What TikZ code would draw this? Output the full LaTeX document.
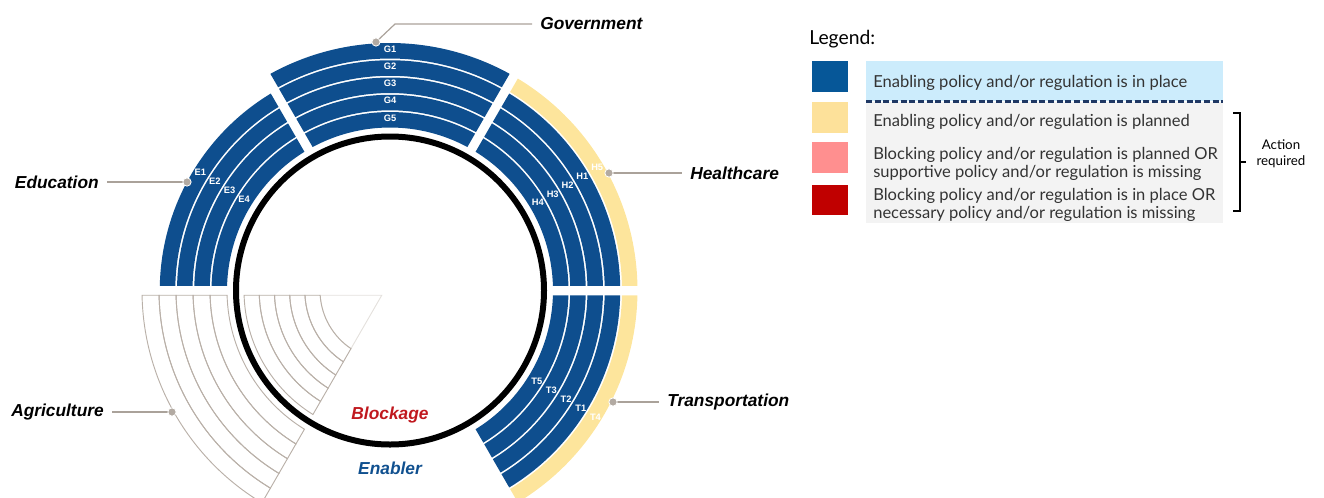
\documentclass[tikz,border=0pt]{standalone}
\usepackage{fontspec}
\setmainfont{Lato}
\newfontfamily\sectorfont{Liberation Sans}
\usetikzlibrary{positioning}

\definecolor{bandblue}{RGB}{14,78,142}
\definecolor{planyellow}{RGB}{253,229,156}
\definecolor{outgray}{RGB}{185,176,168}
\definecolor{faintgray}{RGB}{228,225,221}
\definecolor{leadgray}{RGB}{170,162,154}
\definecolor{dotgray}{RGB}{178,170,162}
\definecolor{blockred}{RGB}{192,24,30}
\definecolor{enablerblue}{RGB}{16,80,143}
\definecolor{keyblue}{RGB}{6,87,152}
\definecolor{keyyellow}{RGB}{253,225,154}
\definecolor{keypink}{RGB}{255,143,143}
\definecolor{keyred}{RGB}{192,0,0}
\definecolor{legblue}{RGB}{204,236,252}
\definecolor{leggray}{RGB}{243,243,243}
\definecolor{legnavy}{RGB}{31,56,100}

% half width of the white strip between two sectors
\newcommand{\gap}{4.75}
% ring piece: start angle, end angle, inner radius, outer radius, style
\newcommand{\ringseg}[5]{%
  \path[#5] ({#1+asin(\gap/(#4))}:#4)
    arc[start angle={#1+asin(\gap/(#4))}, end angle={#2-asin(\gap/(#4))}, radius=#4]
    -- ({#2-asin(\gap/(#3))}:#3)
    arc[start angle={#2-asin(\gap/(#3))}, end angle={#1+asin(\gap/(#3))}, radius=#3]
    -- cycle;}

\begin{document}
\begin{tikzpicture}[
        x=0.75pt, y=0.75pt,
        every node/.style={inner sep=0pt},
        band/.style={fill=bandblue},
        planned/.style={fill=planyellow},
        agri/.style={draw=outgray, line width=0.7pt},
        sector/.style={font=\sectorfont\bfseries\itshape\fontsize{13}{15}\selectfont, inner xsep=6pt},
        bandlabel/.style={font=\sectorfont\bfseries\fontsize{7}{8}\selectfont, text=white},
        dot/.style={circle, fill=dotgray, draw=white, line width=0.6pt, minimum size=6.2pt},
        leader/.style={draw=leadgray, line width=0.9pt},
        key/.style={minimum width=27pt, minimum height=23pt},
        keytext/.style={font=\fontsize{12.4}{13.5}\selectfont, text=black!80, align=left, anchor=west}
    ]
    \useasboundingbox (0,0) rectangle (1324,-497);

    \begin{scope}[shift={(390,-290.5)}]
        % Government
        \foreach \k [evaluate=\k as \ri using 163+17.25*\k, evaluate=\k as \ro using 178.5+17.25*\k] in {0,...,4}
            \ringseg{60}{120}{\ri}{\ro}{band};
        % Healthcare
        \foreach \k [evaluate=\k as \ri using 163+17.25*\k, evaluate=\k as \ro using 178.5+17.25*\k] in {0,...,3}
            \ringseg{0}{60}{\ri}{\ro}{band};
        \ringseg{0}{60}{232}{247.5}{planned}
        % Transportation
        \foreach \k [evaluate=\k as \ri using 163+17.25*\k, evaluate=\k as \ro using 178.5+17.25*\k] in {0,...,3}
            \ringseg{-60}{0}{\ri}{\ro}{band};
        \ringseg{-60}{0}{232}{247.5}{planned}
        % Education
        \foreach \k [evaluate=\k as \ri using 163+17.25*\k, evaluate=\k as \ro using 178.5+17.25*\k] in {0,...,3}
            \ringseg{120}{180}{\ri}{\ro}{band};
        % Agriculture, outside and inside
        \foreach \k [evaluate=\k as \ri using 163+17*\k, evaluate=\k as \ro using 180+17*\k] in {0,...,4}
            \ringseg{180}{240}{\ri}{\ro}{agri};
        \draw[faintgray, line width=0.7pt] (210:{2*\gap}) -- ({180+asin(\gap/70)}:70)
            arc[start angle={180+asin(\gap/70)}, end angle={240-asin(\gap/70)}, radius=70] -- cycle;
        \foreach \k [evaluate=\k as \ri using 70+15.2*\k, evaluate=\k as \ro using 85.2+15.2*\k] in {0,...,4}
            \ringseg{180}{240}{\ri}{\ro}{agri};

        % Circle
        \draw[line width=4.5pt] (0,0) circle[radius=154];

        % Band labels
        \foreach \lab/\k in {G5/0, G4/1, G3/2, G2/3, G1/4}
            \node[bandlabel] (\lab) at (90:{172.5+17.25*\k}) {\lab};
        \foreach \lab/\k in {E4/0, E3/1, E2/2, E1/3}
            \node[bandlabel] (\lab) at (148:{172+17.25*\k}) {\lab};
        \foreach \lab/\k in {H4/0, H3/1, H2/2, H1/3, H5/4}
            \node[bandlabel] (\lab) at (30.7:{172+17.25*\k}) {\lab};
        \foreach \lab/\k in {T5/0, T3/1, T2/2, T1/3, T4/4}
            \node[bandlabel] (\lab) at (-31.7:{172.5+17.25*\k}) {\lab};
    \end{scope}

    % Sector names
    \node[sector, anchor=west] (gov) at (532,-24) {Government};
    \node[sector, anchor=east] (edu) at (107,-182) {Education};
    \node[sector, anchor=west] (health) at (682,-173) {Healthcare};
    \node[sector, anchor=east] (agri) at (112,-412) {Agriculture};
    \node[sector, anchor=west] (trans) at (659,-402) {Transportation};

    \coordinate (gov-dot) at (376,-42);
    \coordinate (edu-dot) at (187,-182);
    \coordinate (health-dot) at (609,-173);
    \coordinate (agri-dot) at (172,-412);
    \coordinate (trans-dot) at (613,-402);
    \coordinate (gov-bend) at (395,-24);

    \draw[leader] (gov-dot) -- (gov-bend) -- (gov.west);
    \draw[leader] (edu-dot) -- (edu.east);
    \draw[leader] (health-dot) -- (health.west);
    \draw[leader] (agri-dot) -- (agri.east);
    \draw[leader] (trans-dot) -- (trans.west);
    \foreach \d in {gov-dot, edu-dot, health-dot, agri-dot, trans-dot}
        \node[dot] at (\d) {};

    \node[sector, text=blockred] (blockage) at (390,-415) {Blockage};
    \node[sector, text=enablerblue] (enabler) at (390,-468) {Enabler};

    % Legend
    \node[anchor=west, font=\fontsize{14.5}{16}\selectfont] (legend) at (809,-39) {Legend:};
    \fill[legblue] (866,-61) rectangle (1223,-101);
    \fill[leggray] (866,-102) rectangle (1223,-223);
    \draw[legnavy, line width=1.6pt, dash pattern=on 4.5pt off 2pt] (866,-101.5) -- (1223,-101.5);

    \node[key, fill=keyblue] (key-inplace) at (830,-76.5) {};
    \node[key, fill=keyyellow] (key-planned) at (830,-117.5) {};
    \node[key, fill=keypink] (key-blockplan) at (830,-157.5) {};
    \node[key, fill=keyred] (key-blockin) at (830,-200) {};

    \node[keytext] (txt-inplace) at (873,-83) {Enabling policy and/or regulation is in place};
    \node[keytext] (txt-planned) at (873,-122) {Enabling policy and/or regulation is planned};
    \node[keytext] (txt-blockplan) at (873,-164) {Blocking policy and/or regulation is planned OR\\supportive policy and/or regulation is missing};
    \node[keytext] (txt-blockin) at (873,-205) {Blocking policy and/or regulation is in place OR\\necessary policy and/or regulation is missing};

    \draw[line width=1.1pt] (1233,-113) -- (1240,-113) -- (1240,-211) -- (1233,-211);
    \draw[line width=1.1pt] (1240,-162) -- (1246,-162);
    \node[align=center, font=\fontsize{10}{12}\selectfont] (action) at (1281,-154) {Action\\required};
\end{tikzpicture}
\end{document}
